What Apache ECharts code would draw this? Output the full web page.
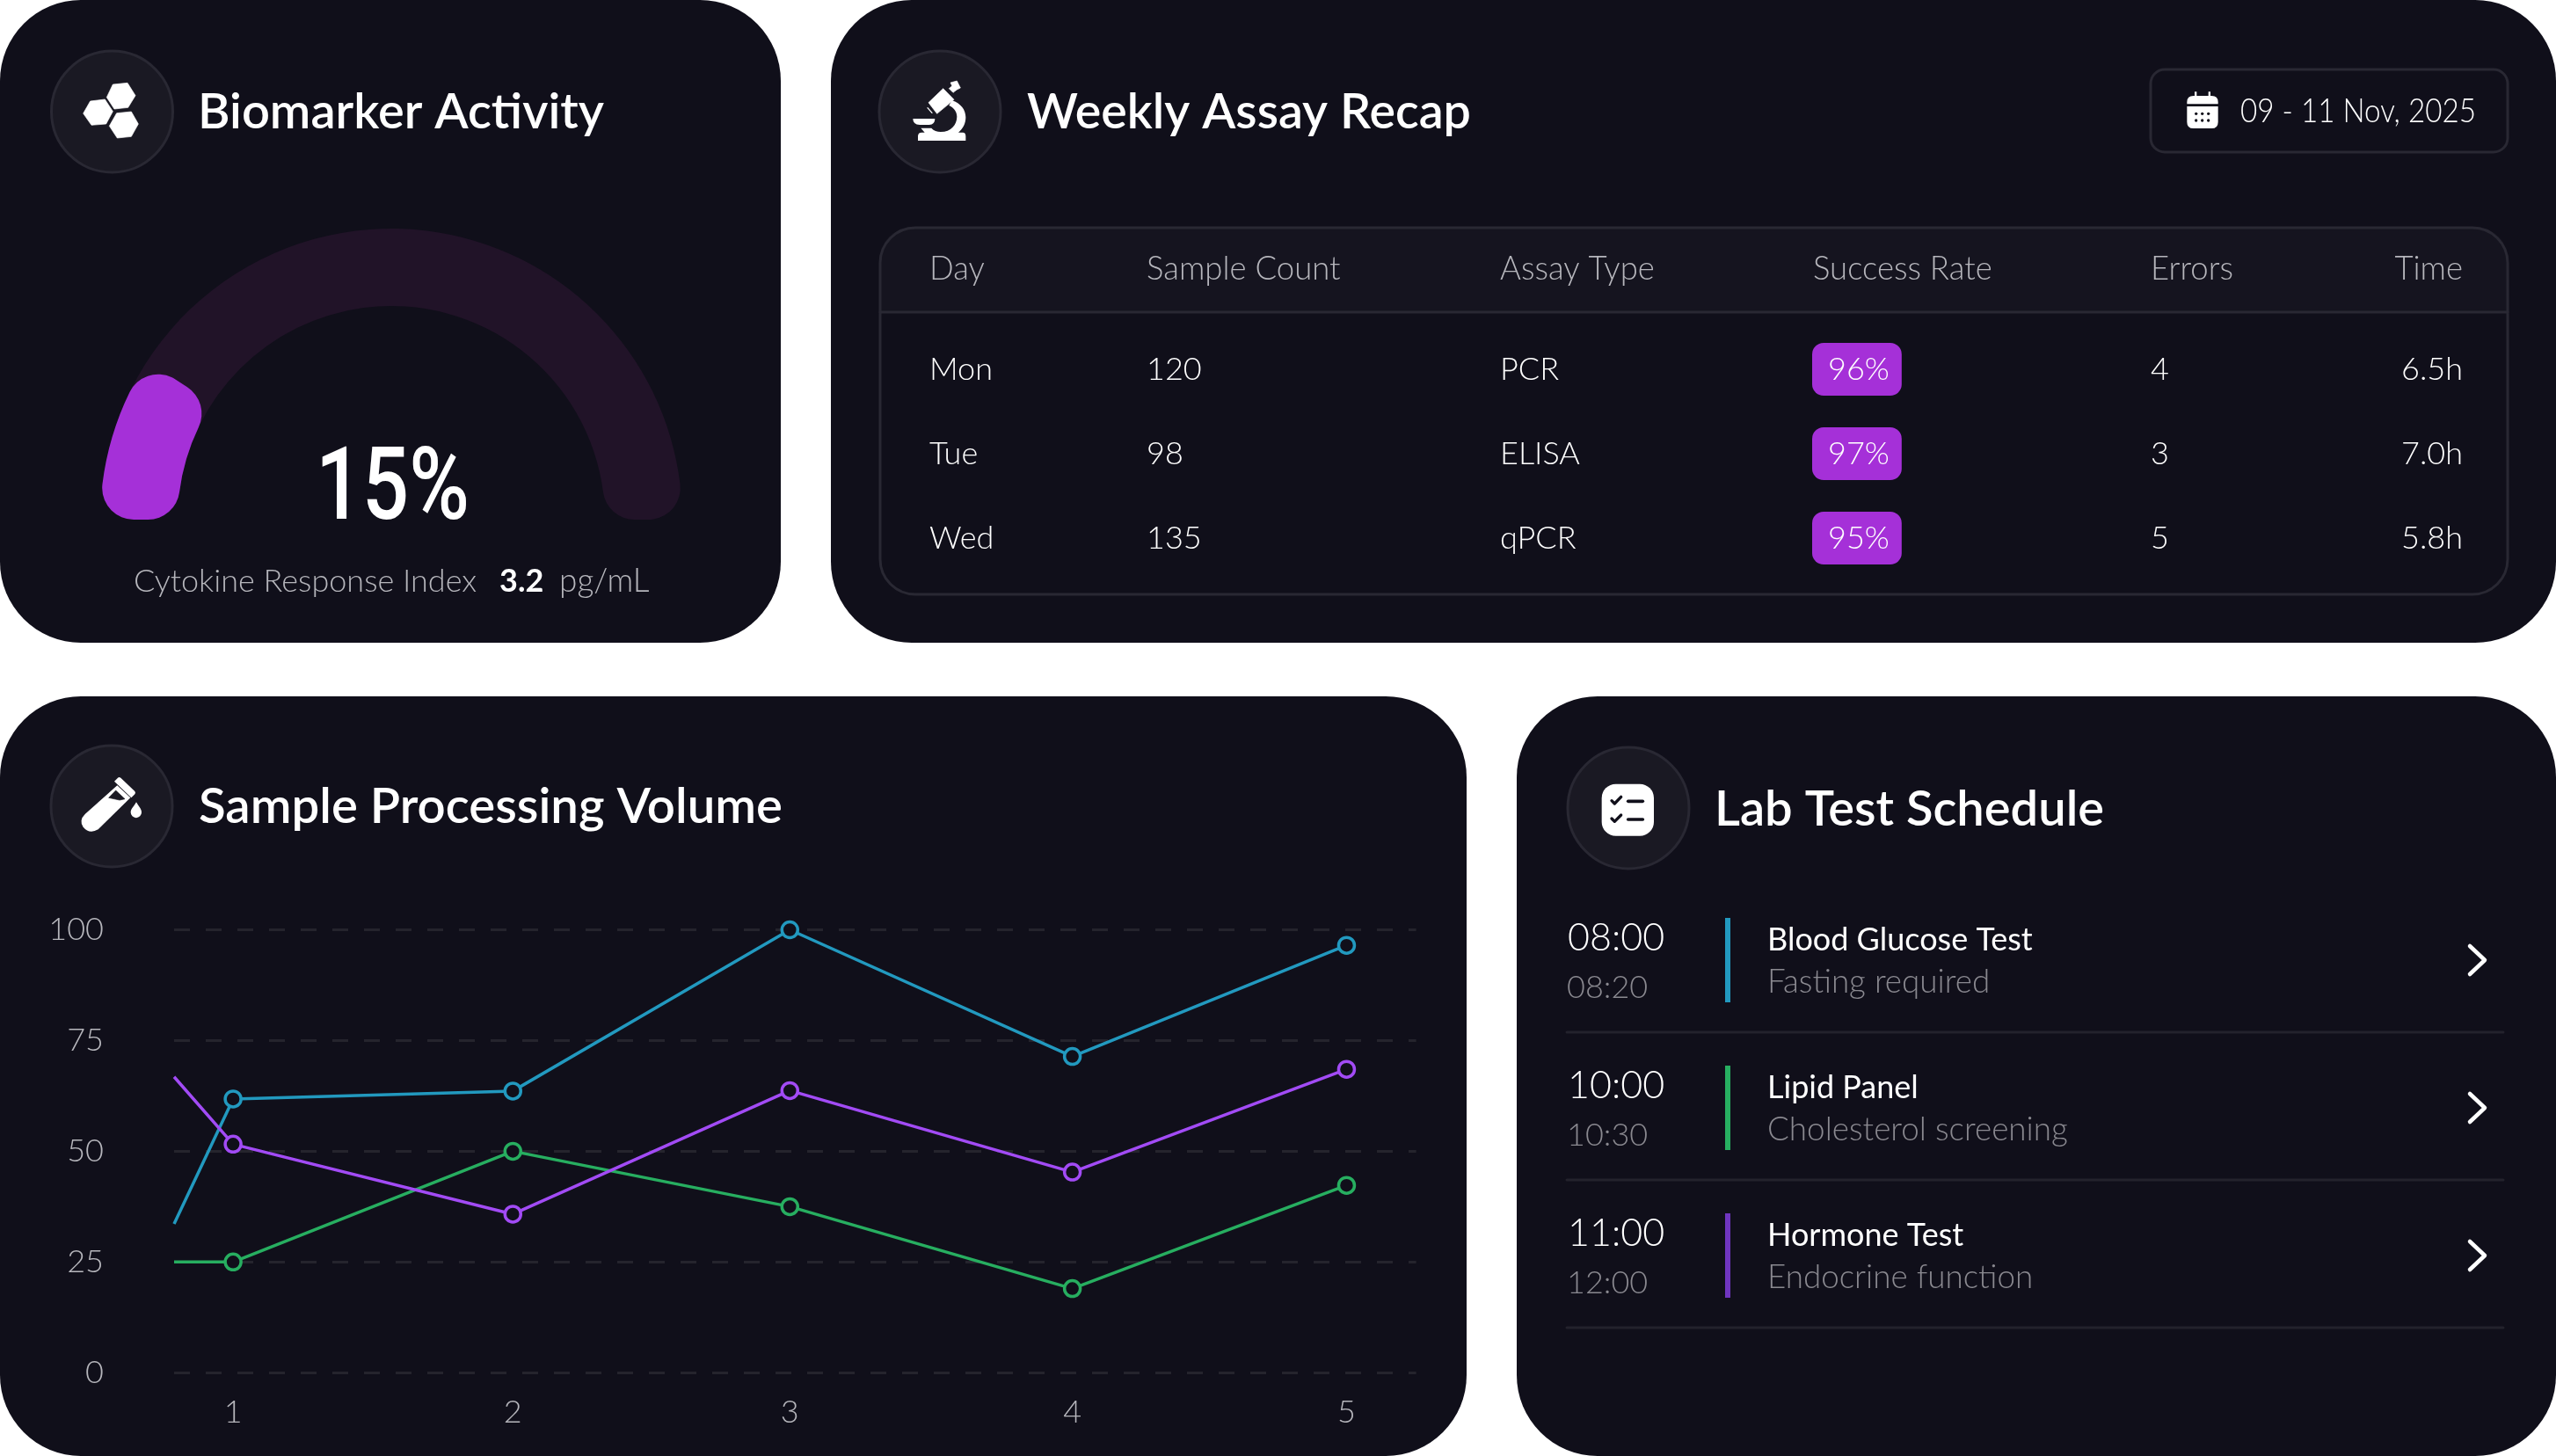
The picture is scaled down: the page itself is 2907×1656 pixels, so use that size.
<!DOCTYPE html>
<html><head><meta charset="utf-8">
<script src="https://cdn.jsdelivr.net/npm/echarts@6/dist/echarts.min.js"></script>
<style>html,body{margin:0;padding:0;background:#fff}#c{width:2907px;height:1656px}</style>
</head><body><div id="c"></div>
<script>
// ---- data ----
const gaugeValue = 15;
const gaugeMax = 100;
const xLead = 0.788;
const xTicks = [1, 2.005, 3, 4.015, 5];
const yTicks = [0, 25, 50, 75, 100];
const blueVals = [33.6, 61.8, 63.6, 100, 71.4, 96.5];
const greenVals = [25, 25, 50, 37.5, 19, 42.3];
const purpleVals = [66.8, 51.6, 35.8, 63.7, 45.3, 68.5];
const tableHead = ['Day', 'Sample Count', 'Assay Type', 'Success Rate', 'Errors', 'Time'];
const days = ['Mon', 'Tue', 'Wed'];
const sampleCounts = ['120', '98', '135'];
const assayTypes = ['PCR', 'ELISA', 'qPCR'];
const successRates = ['96%', '97%', '95%'];
const errorCounts = ['4', '3', '5'];
const durations = ['6.5h', '7.0h', '5.8h'];
const schedStart = ['08:00', '10:00', '11:00'];
const schedEnd = ['08:20', '10:30', '12:00'];
const schedName = ['Blood Glucose Test', 'Lipid Panel', 'Hormone Test'];
const schedNote = ['Fasting required', 'Cholesterol screening', 'Endocrine function'];

// ---- style ----
const FONT = 'Lato';
const CARD = '#100F1A', CIRCLE = '#1A1923', EDGE = '#292833', WHITE = '#FFFFFF';
const BLUE = '#2299BF', GREEN = '#27AE60', PURPLE = '#A24BF5', BADGE = '#A530D8', TRACK = '#211328';
const MUTED = '#B6B6BC', FAINT = '#8A8990';
const schedColor = [BLUE, GREEN, '#6F35BF'];

const els = [];
const ctx = document.createElement('canvas').getContext('2d');
const rect = (x, y, w, h, r, fill, stroke, lw) => els.push({type:'rect', shape:{x, y, width:w, height:h, r}, style:{fill, stroke:stroke||null, lineWidth:lw||0}});
const txt = (text, x, y, size, fill, weight, align, target, family) => {
  let scaleX = 1;
  const fam = family || FONT, w = weight || 300;
  if (target) { ctx.font = w + ' ' + size + 'px ' + fam; scaleX = target / ctx.measureText(text).width; }
  els.push({type:'text', x, y, scaleX, style:{text, fill, fontFamily:fam, fontSize:size, fontWeight:w, align:align||'left', verticalAlign:'middle'}});
};
const ln = (x1, y1, x2, y2, stroke, lw) => els.push({type:'line', shape:{x1, y1, x2, y2}, style:{stroke, lineWidth:lw, lineCap:'round'}});
const circle = (cx, cy, r) => els.push({type:'circle', shape:{cx, cy, r}, style:{fill:CIRCLE, stroke:EDGE, lineWidth:3}});
const icon = (x, y, children) => els.push({type:'group', x, y, scaleX:1/3, scaleY:1/3, children});
let shapeId = 0;
const shapeOf = d => { const name = 'iconShape' + (shapeId++); echarts.graphic.registerShape(name, echarts.graphic.extendPath(d, {})); return name; };
const p = (d, fill) => ({type:shapeOf(d), style:{fill:fill||WHITE}});
const poly = (points, fill) => ({type:'polygon', shape:{points}, style:{fill:fill||WHITE, stroke:fill||WHITE, lineWidth:2, lineJoin:'round'}});
const stroke = (d, col, lw) => ({type:shapeOf(d), style:{fill:null, stroke:col, lineWidth:lw, lineCap:'round', lineJoin:'round'}});

// cards
rect(0, 0, 888, 731, 92, CARD);
rect(945, 0, 1962, 731, 92, CARD);
rect(0, 792, 1668, 864, 92, CARD);
rect(1725, 792, 1182, 864, 92, CARD);

// card 1
circle(127.5, 127, 69);
icon(80, 80, [
  poly([[145,48],[195,43],[222,86],[197,127],[150,132],[124,92]]),
  poly([[68,105],[118,99],[145,140],[122,183],[72,187],[44,147]]),
  poly([[158,146],[208,141],[232,183],[208,226],[160,231],[133,190]])
]);
txt('Biomarker Activity', 225, 128, 55, WHITE, 600, 'left', 462);
txt(gaugeValue + '%', 446.5, 561, 115, WHITE, 500, 'center', 175, 'Roboto');
txt('Cytokine Response Index', 152, 661, 36, MUTED);
txt('3.2', 568, 661, 36, WHITE, 700);
txt('pg/mL', 636, 661, 37, MUTED);

// card 2
circle(1069, 127, 69);
icon(1020, 80, [
  p('M188 103C218 112 235 135 235 160C235 182 225 200 210 212L225 212Q235 212 235 225L235 240L72 240L72 225Q72 212 85 212L95 212L82 197L118 197Q130 210 150 210C185 210 205 185 205 158C205 142 195 128 178 120Z'),
  poly([[158,62],[195,100],[137,148],[108,110]]),
  poly([[178,62],[190,52],[204,66],[192,76]]),
  poly([[183,42],[205,36],[217,60],[197,70]]),
  stroke('M105 128L120 145', WHITE, 4),
  p('M55 165L130 165Q130 185 110 186L78 186Q55 185 55 165Z')
]);
txt('Weekly Assay Recap', 1168, 128, 55, WHITE, 600, 'left', 505);
rect(2446, 79, 406, 94, 16, 'transparent', EDGE, 3);
icon(2460, 90, [
  p('M82 85L82 78Q82 57 104 57L108 57L108 43L115 43L115 57L155 57L155 43L162 43L162 57L166 57Q188 57 188 78L188 85Z'),
  p('M82 93L188 93L188 146Q188 168 166 168L104 168Q82 168 82 146Z'),
  ...[113,134,155].flatMap(cx => [118,141].map(cy => ({type:'circle', shape:{cx, cy, r:5}, style:{fill:CARD}})))
]);
txt('09 - 11 Nov, 2025', 2548, 127.5, 37, WHITE, 300, 'left', 268);

// table
els.push({type:shapeOf('M1001 355L1001 299Q1001 259 1041 259L2812 259Q2852 259 2852 299L2852 355Z'), style:{fill:'#15141F'}});
rect(1001, 259, 1851, 417, 40, 'transparent', EDGE, 3);
ln(1001, 355, 2852, 355, EDGE, 3);
const colX = [1057, 1304, 1706, 2062, 2446, 2801];
tableHead.forEach((h, i) => txt(h, colX[i], 306, 36.5, MUTED, 300, i === 5 ? 'right' : 'left'));
const rowY = [420, 516, 612];
days.forEach((d, i) => {
  const y = rowY[i];
  txt(d, colX[0], y, 36, WHITE);
  txt(sampleCounts[i], colX[1], y, 36, WHITE);
  txt(assayTypes[i], colX[2], y, 36, WHITE);
  els.push({type:'text', x:2061, y:y, style:{text:successRates[i], fill:WHITE, fontFamily:FONT, fontSize:36, fontWeight:300, align:'left', verticalAlign:'middle', backgroundColor:BADGE, borderRadius:13, padding:[12,14,11,18], lineHeight:37}});
  txt(errorCounts[i], colX[4], y, 36, WHITE);
  txt(durations[i], colX[5], y, 36, WHITE, 300, 'right');
});

// card 3
circle(127, 917, 69);
icon(80, 870, [
  p('M150 56L162 44Q166 40 172 44L220 90Q224 95 220 100L208 112Z'),
  p('M160 70L205 112L95 220Q65 238 44 212Q28 190 50 168Z'),
  poly([[131,112],[155,87],[186,116],[168,120]], CIRCLE),
  p('M225 127C235 145 243 150 243 162A18 18 0 0 1 206 162C206 150 215 145 225 127Z')
]);
txt('Sample Processing Volume', 226, 918, 55, WHITE, 600, 'left', 664);

// card 4
circle(1852, 919, 69);
icon(1800, 870, [
  {type:'rect', shape:{x:65, y:65, width:178, height:177, r:48}, style:{fill:WHITE}},
  stroke('M99 122L109 132L131 109', CARD, 10),
  stroke('M155 124L205 124', CARD, 11),
  stroke('M99 183L109 193L131 171', CARD, 10),
  stroke('M155 186L205 186', CARD, 11)
]);
txt('Lab Test Schedule', 1950, 921, 55, WHITE, 600, 'left', 443);
schedStart.forEach((s, i) => {
  const dy = i * 168;
  txt(s, 1783, 1067 + dy, 43, WHITE);
  txt(schedEnd[i], 1782, 1123 + dy, 36, FAINT);
  rect(1962, 1044 + dy, 6, 96, 0, schedColor[i]);
  txt(schedName[i], 2010, 1069 + dy, 36, WHITE, 400);
  txt(schedNote[i], 2010, 1117 + dy, 36.8, FAINT);
  els.push({type:'polyline', shape:{points:[[2809,1076 + dy],[2826,1092 + dy],[2809,1108 + dy]]}, style:{fill:null, stroke:WHITE, lineWidth:4.5, lineCap:'round', lineJoin:'round'}});
  ln(1782, 1174 + dy, 2847, 1174 + dy, '#23222C', 3);
});

const xs = [xLead, ...xTicks];
const lineSeries = (name, vals, color) => ({
  name, type:'line', silent:true, symbol:'circle', symbolSize:18, clip:true,
  showAllSymbol:true,
  lineStyle:{color, width:3.5},
  itemStyle:{color:CARD, borderColor:color, borderWidth:3.5},
  data: vals.map((v, i) => i === 0 ? {value:[xs[i], v], symbol:'none'} : {value:[xs[i], v]})
});
const pieBase = {type:'pie', silent:true, center:[445,591], radius:[243,331], startAngle:180, endAngle:0, label:{show:false}, labelLine:{show:false}, emphasis:{disabled:true}};

const chart = echarts.init(document.getElementById('c'), null, {renderer:'canvas', width:2907, height:1656});
chart.setOption({
  animation:false,
  backgroundColor:'#FFFFFF',
  grid:{left:198, top:1057.5, width:1412.6, height:503.8, containLabel:false},
  xAxis:{type:'value', min:xLead, max:5.25,
    axisLine:{show:false}, axisTick:{show:false}, splitLine:{show:false},
    axisLabel:{customValues:xTicks, formatter:v => String(Math.round(v)), margin:27, fontFamily:FONT, fontSize:36, fontWeight:300, color:MUTED}},
  yAxis:{type:'value', min:yTicks[0], max:yTicks[4], interval:25,
    axisLine:{show:false}, axisTick:{show:false},
    axisLabel:{margin:80, align:'right', padding:[7,0,0,0], fontFamily:FONT, fontSize:36, fontWeight:300, color:MUTED},
    splitLine:{lineStyle:{type:[18,18], width:3, color:'#25242D'}}},
  graphic:{elements:els},
  series:[
    Object.assign({}, pieBase, {name:'track', data:[{value:gaugeMax, itemStyle:{color:TRACK, borderRadius:36}}]}),
    Object.assign({}, pieBase, {name:'fill', endAngle:-40, data:[
      {value:gaugeValue, itemStyle:{color:BADGE, borderRadius:36}},
      {value:gaugeMax - gaugeValue, itemStyle:{color:'transparent'}}]}),
    lineSeries('Blue', blueVals, BLUE),
    lineSeries('Green', greenVals, GREEN),
    lineSeries('Purple', purpleVals, PURPLE)
  ]
});
</script></body></html>
